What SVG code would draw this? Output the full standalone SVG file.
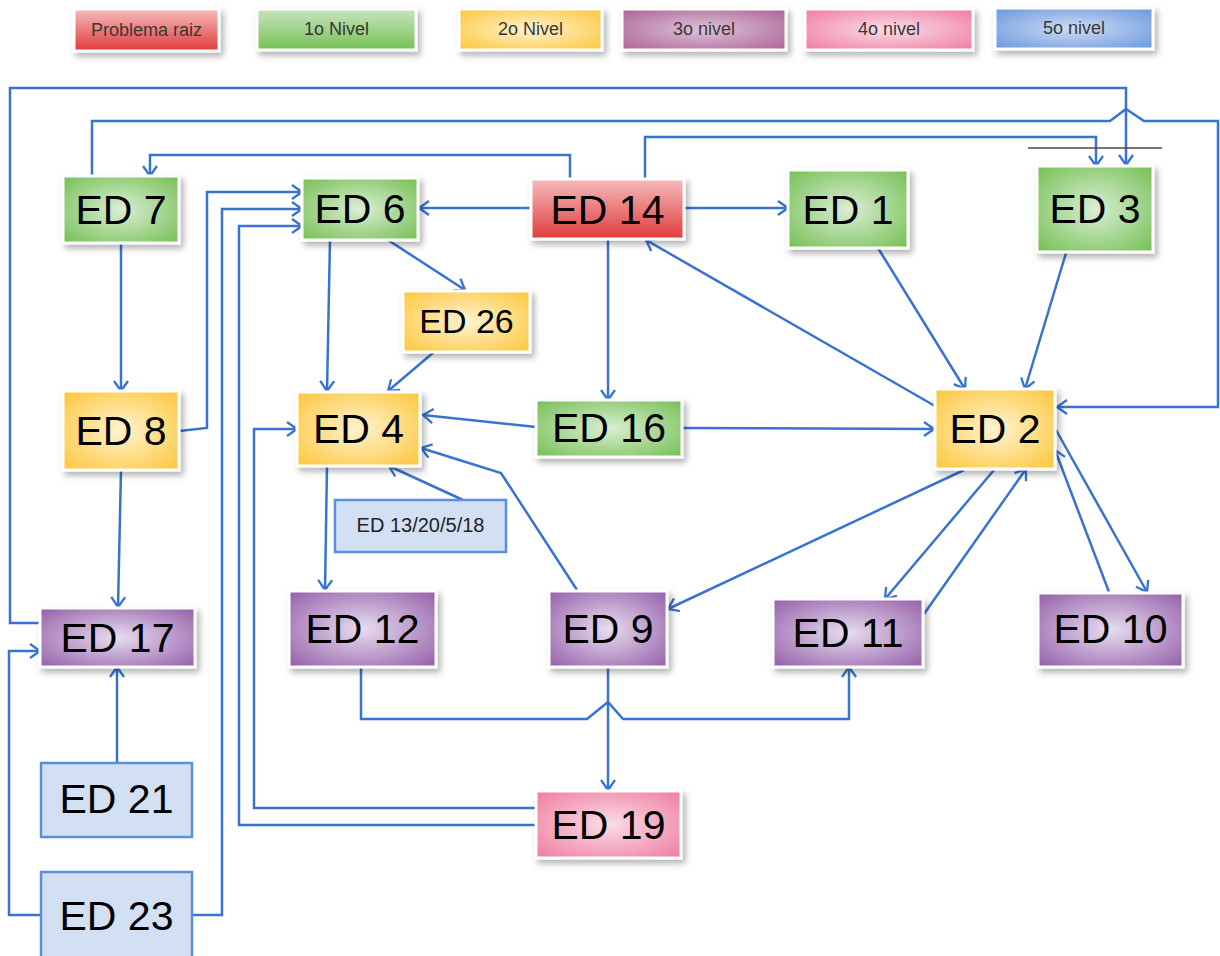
<svg xmlns="http://www.w3.org/2000/svg" width="1220" height="956" viewBox="0 0 1220 956">
  <defs>
    <style>
      .lbl { font-family: "Liberation Sans", Arial, sans-serif; font-size: 18px; fill: #383838; text-anchor: middle; }
      .t { font-family: "Liberation Sans", Arial, sans-serif; font-size: 41px; fill: #000; text-anchor: middle; }
      .box { stroke: #fff; stroke-width: 3; filter: url(#sh); }
      .blue { fill: #d3e0f3; stroke: #5a8fdc; stroke-width: 2.5; }
      .c { fill: none; stroke: #3873d2; stroke-width: 2.5; stroke-linejoin: miter; }
      .ca { marker-end: url(#ah); }
    </style>
    <filter id="sh" x="-20%" y="-20%" width="150%" height="160%">
      <feDropShadow dx="3" dy="4" stdDeviation="3" flood-color="#000" flood-opacity="0.3"/>
    </filter>
    <marker id="ah" viewBox="0 0 12 16" refX="11" refY="8" markerWidth="12" markerHeight="16" markerUnits="userSpaceOnUse" orient="auto">
      <path d="M1,1 L11,8 L1,15" fill="none" stroke="#3873d2" stroke-width="2.3"/>
    </marker>
    <!-- level fills -->
    <linearGradient id="gRed" x1="0" y1="0" x2="0" y2="1">
      <stop offset="0" stop-color="#f6bcbc"/>
      <stop offset="1" stop-color="#e03b3b"/>
    </linearGradient>
    <radialGradient id="gGreen" cx="0.5" cy="0.5" r="0.7">
      <stop offset="0" stop-color="#dbeed5"/>
      <stop offset="1" stop-color="#74bf52"/>
    </radialGradient>
    <linearGradient id="gGreenL" x1="0" y1="0" x2="0" y2="1">
      <stop offset="0" stop-color="#c9e5be"/>
      <stop offset="1" stop-color="#76c056"/>
    </linearGradient>
    <radialGradient id="gYel" cx="0.5" cy="0.5" r="0.7">
      <stop offset="0" stop-color="#fff3d0"/>
      <stop offset="1" stop-color="#fdc63a"/>
    </radialGradient>
    <radialGradient id="gPur" cx="0.5" cy="0.5" r="0.7">
      <stop offset="0" stop-color="#e7ddef"/>
      <stop offset="1" stop-color="#945ea9"/>
    </radialGradient>
    <radialGradient id="gPurL" cx="0.5" cy="0.5" r="0.7">
      <stop offset="0" stop-color="#dcc3d8"/>
      <stop offset="1" stop-color="#ad6296"/>
    </radialGradient>
    <radialGradient id="gPink" cx="0.5" cy="0.5" r="0.7">
      <stop offset="0" stop-color="#fadde7"/>
      <stop offset="1" stop-color="#ef7c9f"/>
    </radialGradient>
    <radialGradient id="gBlueL" cx="0.5" cy="0.5" r="0.7">
      <stop offset="0" stop-color="#cddcf3"/>
      <stop offset="1" stop-color="#6997dd"/>
    </radialGradient>
  </defs>

  <!-- legend -->
  <g id="legend">
    <rect class="box" x="74" y="9" width="145" height="42" fill="url(#gRed)"/>
    <text class="lbl" x="146.5" y="36">Problema raiz</text>
    <rect class="box" x="257" y="9" width="159" height="41" fill="url(#gGreenL)"/>
    <text class="lbl" x="336.5" y="35">1o Nivel</text>
    <rect class="box" x="459" y="9" width="143" height="41" fill="url(#gYel)"/>
    <text class="lbl" x="530.5" y="35">2o Nivel</text>
    <rect class="box" x="622" y="9" width="164" height="41" fill="url(#gPurL)"/>
    <text class="lbl" x="704" y="35">3o nivel</text>
    <rect class="box" x="805" y="9" width="168" height="41" fill="url(#gPink)"/>
    <text class="lbl" x="889" y="35">4o nivel</text>
    <rect class="box" x="995" y="8" width="158" height="41" fill="url(#gBlueL)"/>
    <text class="lbl" x="1074" y="34">5o nivel</text>
  </g>

  <!-- connectors -->
  <g id="connectors">
    <path class="c ca" d="M40,623 H10 V88 H1126 V165"/>
    <path class="c ca" d="M92,176 V121 H1110 L1126,109 L1144,121 H1218 V407 H1057"/>
    <path class="c ca" d="M570,179 V155 H150 V176"/>
    <path class="c ca" d="M645,179 V137 H1096 V166"/>
    <path d="M1028,148 H1162" fill="none" stroke="#4a4a4a" stroke-width="1.5"/>
    <path class="c ca" d="M531,208 H419"/>
    <path class="c ca" d="M684,208 H788"/>
    <path class="c ca" d="M608,239 V400"/>
    <path class="c ca" d="M935,406 L646,240"/>
    <path class="c ca" d="M878,248 L965,389"/>
    <path class="c ca" d="M1066,253 L1025,389"/>
    <path class="c ca" d="M330,240 L327,391"/>
    <path class="c ca" d="M388,240 L465,290"/>
    <path class="c ca" d="M434,352 L388,391"/>
    <path class="c ca" d="M536,427 L423,415"/>
    <path class="c ca" d="M682,428 L934,429"/>
    <path class="c ca" d="M577,590 L501,473 L421,448"/>
    <path class="c ca" d="M463,500 L389,466"/>
    <path class="c ca" d="M327,466 L325,590"/>
    <path class="c ca" d="M964,470 L668,609"/>
    <path class="c ca" d="M994,470 L885,599"/>
    <path class="c ca" d="M924,614 L1026,469"/>
    <path class="c ca" d="M1109,592 L1055,450"/>
    <path class="c ca" d="M1056,430 L1147,592"/>
    <path class="c ca" d="M361,667 V719 H587 L608,702 L623,719 H849 V667"/>
    <path class="c ca" d="M608,667 V790"/>
    <path class="c ca" d="M536,808 H254 V429 H297"/>
    <path class="c ca" d="M536,825 H239 V226 H302"/>
    <path class="c ca" d="M179,431 L207,428 V192 H302"/>
    <path class="c ca" d="M192,915 H222 V209 H302"/>
    <path class="c ca" d="M121,243 V391"/>
    <path class="c ca" d="M121,470 L118,607"/>
    <path class="c ca" d="M117,763 V667"/>
    <path class="c ca" d="M41,915 H9 V651 H40"/>
  </g>

  <!-- nodes -->
  <g id="n-ed7"><rect class="box" x="63" y="176" width="116" height="67" fill="url(#gGreen)"/><text class="t" x="121" y="224">ED 7</text></g>
  <g id="n-ed6"><rect class="box" x="302" y="178" width="116" height="62" fill="url(#gGreen)"/><text class="t" x="360" y="223">ED 6</text></g>
  <g id="n-ed14"><rect class="box" x="531" y="179" width="153" height="60" fill="url(#gRed)"/><text class="t" x="607.5" y="224">ED 14</text></g>
  <g id="n-ed1"><rect class="box" x="788" y="170" width="120" height="78" fill="url(#gGreen)"/><text class="t" x="848" y="224">ED 1</text></g>
  <g id="n-ed3"><rect class="box" x="1037" y="166" width="116" height="86" fill="url(#gGreen)"/><text class="t" x="1095" y="223">ED 3</text></g>
  <g id="n-ed26"><rect class="box" x="403" y="291" width="127" height="61" fill="url(#gYel)"/><text class="t" x="466.5" y="333" style="font-size:34px">ED 26</text></g>
  <g id="n-ed8"><rect class="box" x="63" y="391" width="116" height="79" fill="url(#gYel)"/><text class="t" x="121" y="445">ED 8</text></g>
  <g id="n-ed4"><rect class="box" x="297" y="392" width="123" height="74" fill="url(#gYel)"/><text class="t" x="358.5" y="443">ED 4</text></g>
  <g id="n-ed16"><rect class="box" x="536" y="400" width="146" height="57" fill="url(#gGreen)"/><text class="t" x="609" y="442">ED 16</text></g>
  <g id="n-ed2"><rect class="box" x="935" y="389" width="120" height="80" fill="url(#gYel)"/><text class="t" x="995" y="443">ED 2</text></g>
  <g id="n-ed13"><rect class="blue" x="335" y="500" width="171" height="52"/><text class="t" x="420.5" y="532" style="font-size:20px;fill:#222">ED 13/20/5/18</text></g>
  <g id="n-ed17"><rect class="box" x="40" y="608" width="155" height="59" fill="url(#gPur)"/><text class="t" x="117.5" y="652">ED 17</text></g>
  <g id="n-ed12"><rect class="box" x="289" y="591" width="147" height="76" fill="url(#gPur)"/><text class="t" x="362.5" y="643">ED 12</text></g>
  <g id="n-ed9"><rect class="box" x="549" y="591" width="118" height="76" fill="url(#gPur)"/><text class="t" x="608" y="643">ED 9</text></g>
  <g id="n-ed11"><rect class="box" x="773" y="599" width="150" height="68" fill="url(#gPur)"/><text class="t" x="848" y="647">ED 11</text></g>
  <g id="n-ed10"><rect class="box" x="1038" y="593" width="145" height="74" fill="url(#gPur)"/><text class="t" x="1110.5" y="643">ED 10</text></g>
  <g id="n-ed19"><rect class="box" x="536" y="791" width="145" height="67" fill="url(#gPink)"/><text class="t" x="608.5" y="839">ED 19</text></g>
  <g id="n-ed21"><rect class="blue" x="41" y="763" width="151" height="74"/><text class="t" x="116.5" y="813">ED 21</text></g>
  <g id="n-ed23"><rect class="blue" x="41" y="872" width="151" height="100"/><text class="t" x="116.5" y="930">ED 23</text></g>
</svg>
